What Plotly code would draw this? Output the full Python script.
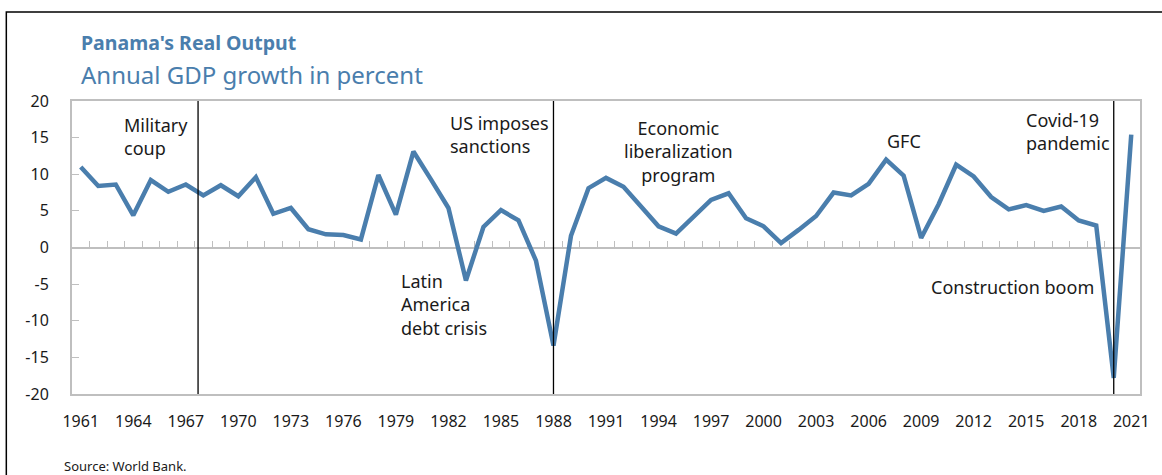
import plotly.graph_objects as go

years = list(range(1961, 2022))
gdp_growth = [
    11.0, 8.4, 8.6, 4.4, 9.2, 7.6, 8.6, 7.1, 8.5, 7.0,
    9.6, 4.6, 5.4, 2.5, 1.8, 1.7, 1.1, 9.9, 4.5, 13.1,
    9.3, 5.4, -4.5, 2.8, 5.1, 3.7, -1.8, -13.4, 1.6, 8.1,
    9.5, 8.3, 5.6, 2.9, 1.9, 4.3, 6.5, 7.4, 4.0, 2.9,
    0.6, 2.4, 4.3, 7.5, 7.1, 8.7, 12.0, 9.8, 1.3, 5.9,
    11.3, 9.7, 6.9, 5.2, 5.8, 5.0, 5.6, 3.7, 3.0, -17.8,
    15.4,
]
tick_years = list(range(1961, 2022, 3))
y_ticks = [20, 15, 10, 5, 0, -5, -10, -15, -20]
y_tick_labels = ["20", "15", "10", "5", "0", "-5", "-10", "-15", "-20"]
event_years = [1967.7, 1988, 2020]

events = [
    ("Military<br>coup", 1963.37, 15.2, "left"),
    ("US imposes<br>sanctions", 1981.96, 15.4, "left"),
    ("Economic<br>liberalization<br>program", 1995.14, 13.1, "center"),
    ("GFC", 2008.04, 14.5, "center"),
    ("Covid-19<br>pandemic", 2014.85, 15.8, "left"),
    ("Latin<br>America<br>debt crisis", 1979.18, -7.8, "left"),
    ("Construction boom", 2009.43, -5.4, "left"),
]

BLUE = "#4A7EAD"
GRAY = "#BFBFBF"
FONT = "Noto Sans"

fig = go.Figure()
fig.add_trace(go.Scatter(
    x=years, y=gdp_growth, mode="lines",
    line=dict(color=BLUE, width=4.5), hoverinfo="x+y", showlegend=False,
))
# invisible trace on the tick axis so it renders
fig.add_trace(go.Scatter(x=[years[0]], y=[0], xaxis="x2", mode="markers",
                         marker=dict(opacity=0), showlegend=False, hoverinfo="skip"))

for xv in event_years:
    fig.add_shape(type="line", xref="x", yref="paper", x0=xv, x1=xv, y0=0, y1=1,
                  line=dict(color="black", width=1.3), layer="above")

for text, xv, yv, al in events:
    fig.add_annotation(text=text, x=xv, y=yv, xref="x", yref="y",
                       xanchor=al, yanchor="middle", align=al, showarrow=False,
                       font=dict(family=FONT, size=18, color="#1a1a1a"))

fig.add_annotation(text="<b>Panama's Real Output</b>", xref="paper", yref="paper",
                   x=0.0065, y=1.201, xanchor="left", yanchor="middle", showarrow=False,
                   font=dict(family=FONT, size=19.5, color=BLUE))
fig.add_annotation(text="Annual GDP growth in percent", xref="paper", yref="paper",
                   x=0.0065, y=1.092, xanchor="left", yanchor="middle", showarrow=False,
                   font=dict(family=FONT, size=24, color=BLUE))
fig.add_annotation(text="Source: World Bank.", xref="paper", yref="paper",
                   x=-0.0094, y=-0.2457, xanchor="left", yanchor="middle", showarrow=False,
                   font=dict(family=FONT, size=13, color="#1a1a1a"))

# outer frame
fig.add_shape(type="rect", xref="paper", yref="paper", x0=-0.0615, x1=1.03,
              y0=-0.32, y1=1.3038, line=dict(color="black", width=1.5), layer="above")

fig.update_layout(
    width=1162, height=475,
    margin=dict(l=72, r=17, t=101, b=81),
    paper_bgcolor="white", plot_bgcolor="white",
    font=dict(family=FONT, size=16, color="#1a1a1a"),
    xaxis=dict(range=[1960.5, 2021.5], tickvals=tick_years, ticks="",
               showgrid=False, zeroline=False, showline=True, mirror=True,
               linecolor=GRAY, linewidth=2, ticklabelstandoff=12,
               tickfont=dict(size=16)),
    xaxis2=dict(range=[1960.5, 2021.5], overlaying="x", anchor="free", position=0.5,
                side="bottom", tickvals=[y + 0.5 for y in years[:-1]],
                ticks="inside", ticklen=7, tickwidth=1.3, tickcolor=GRAY,
                showticklabels=False, showgrid=False, zeroline=False,
                showline=False, layer="below traces"),
    yaxis=dict(range=[-20, 20], tickvals=y_ticks, ticktext=y_tick_labels,
               ticks="inside", ticklen=7, tickwidth=1.3,
               tickcolor=GRAY, showgrid=False, zeroline=True, zerolinecolor=GRAY,
               zerolinewidth=2, showline=True, mirror=True, linecolor=GRAY,
               linewidth=2, ticklabelstandoff=18, tickfont=dict(size=16)),
)

fig.write_html(
    "out.html",
    config={"displayModeBar": False},
    post_script="document.body.style.margin='0';document.body.style.overflow='hidden';",
)
